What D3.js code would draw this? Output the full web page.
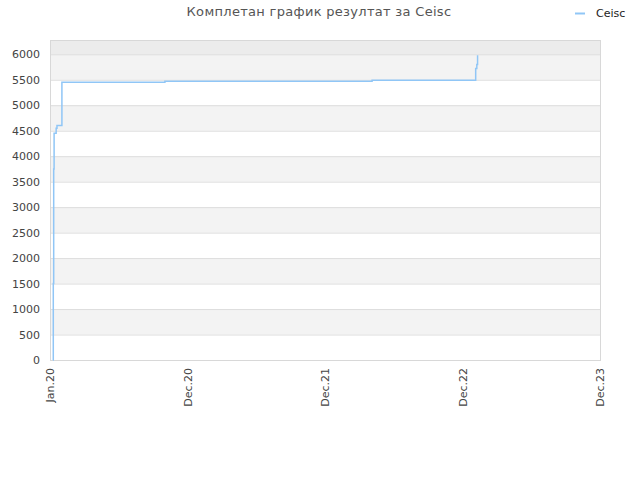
<!DOCTYPE html>
<html>
<head>
<meta charset="utf-8">
<script src="https://cdn.jsdelivr.net/npm/d3@7"></script>
<style>
  body { margin: 0; background: #fff; }
  text { font-family: "DejaVu Sans", sans-serif; }
</style>
</head>
<body>
<svg id="chart" width="640" height="480"></svg>
<script>
// Globals.
var WIDTH = 640;
var HEIGHT = 480;
var MARGIN = {top: 40, right: 40, bottom: 120, left: 50};
var LINE_COLOR = '#90c6f6';

// Data.
var seriesName = 'Ceisc';
var titleText = 'Комплетан график резултат за Ceisc';
var pointDates = ['2020-01-08', '2020-01-09', '2020-01-10', '2020-01-11', '2020-01-16',
                  '2020-01-18', '2020-01-30', '2020-10-07', '2022-04-05', '2023-01-05',
                  '2023-01-08', '2023-01-10'];
var pointValues = [0, 1500, 3750, 4450, 4550, 4600, 5450, 5470, 5490, 5720, 5800, 5980];
var tickDates = ['2020-01-01', '2020-12-01', '2021-12-01', '2022-12-01', '2023-12-01'];
var tickLabels = ['Jan.20', 'Dec.20', 'Dec.21', 'Dec.22', 'Dec.23'];
var yTicks = [0, 500, 1000, 1500, 2000, 2500, 3000, 3500, 4000, 4500, 5000, 5500, 6000];
var Y_MAX = 6280;

var init = function() {
  var svg = d3.select('#chart');
  var w = WIDTH - MARGIN.left - MARGIN.right;
  var h = HEIGHT - MARGIN.top - MARGIN.bottom;
  var parse = d3.timeParse('%Y-%m-%d');

  var ticks = tickDates.map(parse);
  // ticks sit evenly along the axis, so use a piecewise time scale
  var x = d3.scaleTime()
    .domain(ticks)
    .range(ticks.map(function(d, i) { return i * w / (ticks.length - 1); }));
  var y = d3.scaleLinear().domain([0, Y_MAX]).range([h, 0]);

  var g = svg.append('g')
    .attr('transform', 'translate(' + MARGIN.left + ',' + MARGIN.top + ')');

  // alternating bands
  var bands = [];
  for (var i = 0; i < yTicks.length; i++) {
    var lo = yTicks[i];
    var hi = i + 1 < yTicks.length ? yTicks[i + 1] : Y_MAX;
    bands.push({lo: lo, hi: hi, idx: i});
  }
  g.selectAll('rect.band')
    .data(bands)
    .enter()
    .append('rect')
    .attr('class', 'band')
    .attr('x', 0)
    .attr('width', w)
    .attr('y', function(d) { return y(d.hi); })
    .attr('height', function(d) { return y(d.lo) - y(d.hi); })
    .attr('fill', function(d) {
      if (d.idx === yTicks.length - 1) return '#ececec';
      return d.idx % 2 === 1 ? '#f3f3f3' : '#ffffff';
    });

  // grid lines
  g.selectAll('line.grid')
    .data(yTicks)
    .enter()
    .append('line')
    .attr('x1', 0)
    .attr('x2', w)
    .attr('y1', function(d) { return y(d) + 0.5; })
    .attr('y2', function(d) { return y(d) + 0.5; })
    .attr('stroke', '#dddddd');

  // frame
  g.append('rect')
    .attr('x', 0.5).attr('y', 0.5)
    .attr('width', w).attr('height', h)
    .attr('fill', 'none')
    .attr('stroke', '#d8d8d8');

  // y axis
  var yAxis = g.append('g')
    .call(d3.axisLeft(y).tickValues(yTicks).tickSize(0).tickPadding(10)
      .tickFormat(d3.format('d')));
  yAxis.select('.domain').remove();
  yAxis.selectAll('text')
    .attr('font-size', 11)
    .attr('fill', '#444')
    .style('font-family', '"DejaVu Sans", sans-serif');

  // x axis
  var xAxis = g.append('g')
    .attr('transform', 'translate(0,' + h + ')')
    .call(d3.axisBottom(x).tickValues(ticks).tickSize(0)
      .tickFormat(function(d, i) { return tickLabels[i]; }));
  xAxis.select('.domain').remove();
  xAxis.selectAll('text')
    .attr('font-size', 11)
    .attr('fill', '#444')
    .style('font-family', '"DejaVu Sans", sans-serif')
    .attr('text-anchor', 'end')
    .attr('transform', 'rotate(-90)')
    .attr('x', -8)
    .attr('y', 0)
    .attr('dy', '0.35em');

  // series
  var data = pointDates.map(function(d, i) {
    return {date: parse(d), value: pointValues[i]};
  });
  var line = d3.line()
    .x(function(d) { return x(d.date); })
    .y(function(d) { return y(d.value); })
    .curve(d3.curveStepAfter);
  g.append('path')
    .datum(data)
    .attr('d', line)
    .attr('fill', 'none')
    .attr('stroke', LINE_COLOR)
    .attr('stroke-width', 1.5);

  // title
  svg.append('text')
    .attr('x', 319)
    .attr('y', 16)
    .attr('text-anchor', 'middle')
    .attr('font-size', 13)
    .attr('letter-spacing', 0.3)
    .attr('fill', '#555')
    .text(titleText);

  // legend
  svg.append('line')
    .attr('x1', 575).attr('x2', 585)
    .attr('y1', 13.5).attr('y2', 13.5)
    .attr('stroke', LINE_COLOR)
    .attr('stroke-width', 2);
  svg.append('text')
    .attr('x', 596)
    .attr('y', 17)
    .attr('font-size', 11)
    .attr('fill', '#222')
    .text(seriesName);
};

init();
</script>
</body>
</html>
